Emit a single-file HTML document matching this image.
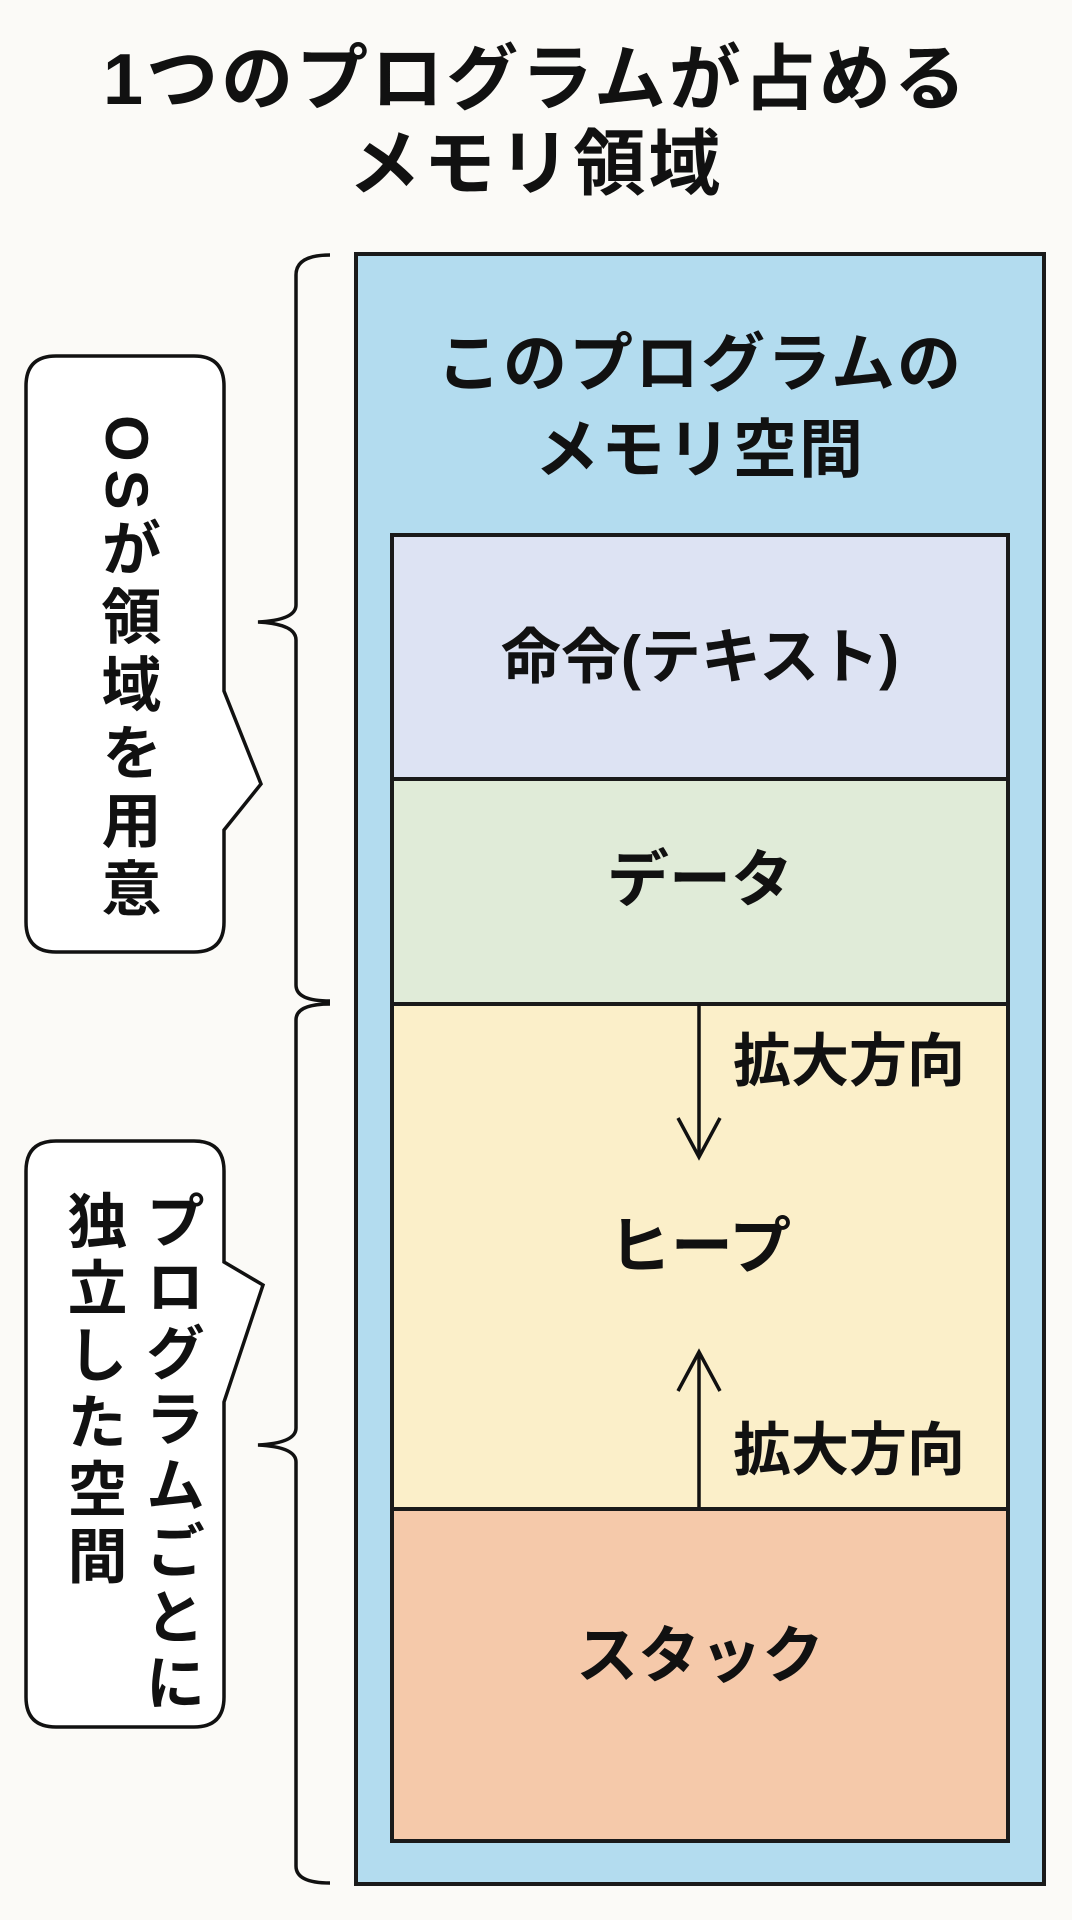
<!DOCTYPE html>
<html><head><meta charset="utf-8"><style>
html,body{margin:0;padding:0}
body{width:1072px;height:1920px;background:#fbfaf7;position:relative;overflow:hidden;font-family:"Liberation Sans","Noto Sans CJK JP",sans-serif;color:#111;font-weight:bold}
.a{position:absolute}
.t{position:absolute;left:0;width:1072px;text-align:center;font-size:72px;letter-spacing:3px;line-height:1}
.box{position:absolute;border:4px solid #1a1a1a;box-sizing:border-box}
.lbl{position:absolute;left:0;width:100%;text-align:center;line-height:1}
.v{position:absolute;writing-mode:vertical-rl;font-size:60px;line-height:1;letter-spacing:7px}
</style></head><body>
<div class="t" style="top:44px">1つのプログラムが占める</div>
<div class="t" style="top:129px">メモリ領域</div>

<div class="box" style="left:354px;top:252px;width:692px;height:1634px;background:#b3dcef"></div>
<div class="lbl" style="left:354px;width:692px;top:332px;font-size:64px;letter-spacing:2px;position:absolute">このプログラムの</div>
<div class="lbl" style="left:354px;width:692px;top:418px;font-size:64px;letter-spacing:2px;position:absolute">メモリ空間</div>

<div class="box" style="left:390px;top:533px;width:620px;height:248px;background:#dde3f3"></div>
<div class="box" style="left:390px;top:777px;width:620px;height:229px;background:#e0ebd8"></div>
<div class="box" style="left:390px;top:1002px;width:620px;height:509px;background:#fbefc9"></div>
<div class="box" style="left:390px;top:1507px;width:620px;height:336px;background:#f5c9aa"></div>

<div class="lbl" style="left:390px;width:620px;top:628px;font-size:60px;position:absolute">命令(テキスト)</div>
<div class="lbl" style="left:390px;width:620px;top:850px;font-size:62px;position:absolute">データ</div>
<div class="lbl" style="left:390px;width:620px;top:1217px;font-size:62px;position:absolute">ヒープ</div>
<div class="lbl" style="left:390px;width:620px;top:1626px;font-size:62px;position:absolute">スタック</div>

<div class="a" style="left:733px;top:1033px;font-size:58px;line-height:1">拡大方向</div>
<div class="a" style="left:733px;top:1422px;font-size:58px;line-height:1">拡大方向</div>

<svg class="a" style="left:0;top:0" width="1072" height="1920">
<g fill="none" stroke="#111" stroke-width="3.5">
<line x1="699" y1="1004" x2="699" y2="1155"/>
<polyline points="678,1118 699,1157 720,1118"/>
<line x1="699" y1="1507" x2="699" y2="1352"/>
<polyline points="678,1391 699,1352 720,1391"/>
<path d="M330,255 Q296,255 296,275 L296,605 Q296,620 258,622 Q296,624 296,640 L296,985 Q296,1001 330,1001"/>
<path d="M330,1004 Q296,1004 296,1020 L296,1428 Q296,1443 258,1445 Q296,1447 296,1462 L296,1866 Q296,1883 330,1883"/>
<path d="M56,356 L194,356 Q224,356 224,386 L224,691 L261,784 L224,830 L224,922 Q224,952 194,952 L56,952 Q26,952 26,922 L26,386 Q26,356 56,356 Z" fill="#fff"/>
<path d="M56,1141 L194,1141 Q224,1141 224,1171 L224,1262 L263,1285 L224,1402 L224,1697 Q224,1727 194,1727 L56,1727 Q26,1727 26,1697 L26,1171 Q26,1141 56,1141 Z" fill="#fff"/>
</g>
</svg>
<div class="v" style="left:96px;top:415px;letter-spacing:8px">OSが領域を用意</div>
<div class="v" style="left:140px;top:1190px;letter-spacing:6px">プログラムごとに</div>
<div class="v" style="left:62px;top:1190px;letter-spacing:7px">独立した空間</div>
</body></html>
